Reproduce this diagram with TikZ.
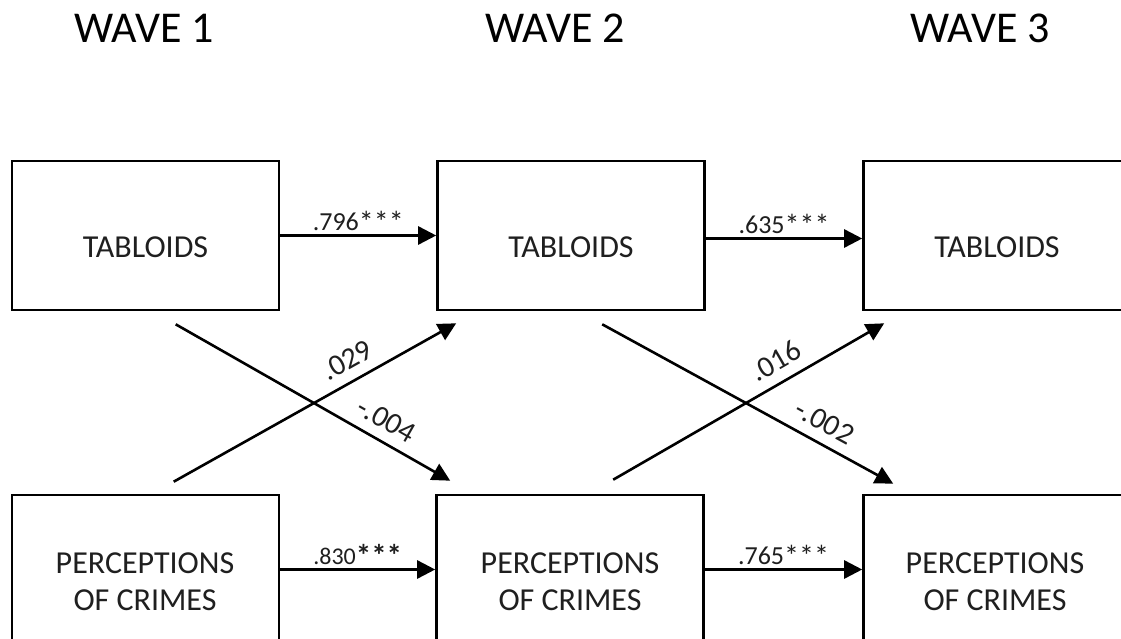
\documentclass[tikz,border=0pt]{standalone}
\usepackage{fontspec}
\setmainfont{Carlito}
\usetikzlibrary{arrows.meta,calc}

\tikzset{
  boxnode/.style={draw=black, line width=2.6pt, rectangle, minimum width=267pt,
                  minimum height=149pt, inner sep=0pt},
  boxtext/.style={align=center, text=black!88, font=\fontsize{32}{37}\selectfont, inner sep=0pt},
  wavetitle/.style={anchor=base, text=black, font=\fontsize{44}{44}\selectfont, inner sep=0pt},
  arr/.style={line width=2.6pt, -{Triangle[length=18pt,width=18pt]}},
  coef/.style={above=2pt, inner sep=0pt, text=black!88, font=\fontsize{26}{26}\selectfont},
  cross/.style={sloped, above=10pt, inner sep=0pt, text=black!88, font=\fontsize{30}{30}\selectfont}
}
% enlarged significance stars
\newcommand{\sigstars}[1][30]{{\fontsize{#1}{#1}\selectfont\raisebox{-2pt}{***}}}

\begin{document}
\begin{tikzpicture}[x=1pt, y=-1pt]
  \clip (0,0) rectangle (1121,639);
  \fill[white] (0,0) rectangle (1121,639);

  % wave headings
  \node[wavetitle] (w1) at (144,43) {WAVE 1};
  \node[wavetitle] (w2) at (555,43) {WAVE 2};
  \node[wavetitle] (w3) at (980,43) {WAVE 3};

  % tabloid boxes
  \node[boxnode] (t1) at (145.5,235.5) {};
  \node[boxnode] (t2) at (571,235.5) {};
  \node[boxnode] (t3) at (997,235.5) {};
  \node[boxtext] (t1l) at ([yshift=-11.5pt]t1.center) {TABLOIDS};
  \node[boxtext] (t2l) at ([yshift=-11.5pt]t2.center) {TABLOIDS};
  \node[boxtext] (t3l) at ([yshift=-11.5pt]t3.center) {TABLOIDS};

  % perception boxes
  \node[boxnode] (p1) at (145.5,569.5) {};
  \node[boxnode] (p2) at (570,569.5) {};
  \node[boxnode] (p3) at (997,569.5) {};
  \node[boxtext] (p1l) at (145,581.5) {PERCEPTIONS\\OF CRIMES};
  \node[boxtext] (p2l) at (570,581.5) {PERCEPTIONS\\OF CRIMES};
  \node[boxtext] (p3l) at (995,581.5) {PERCEPTIONS\\OF CRIMES};

  % stability paths
  \draw[arr] (t1.east) -- node[coef] (c1) {.796\sigstars} (t2.west);
  \draw[arr] ([yshift=-3pt]t2.east) -- node[coef] (c2) {.635\sigstars} ([yshift=-3pt]t3.west);
  \draw[arr] (p1.east) -- node[coef] (c3) {{\fontsize{24}{24}\selectfont .830}{\bfseries\sigstars[31]}} (p2.west);
  \draw[arr] (p2.east) -- node[coef] (c4) {.765\sigstars} (p3.west);

  % cross-lagged path ends
  \coordinate (a1) at ($(t1.south west)+(165,13)$);
  \coordinate (b1) at ($(p2.north west)+(15,-13)$);
  \coordinate (a2) at ($(p1.north west)+(163,-12)$);
  \coordinate (b2) at ($(t2.south west)+(20,12)$);
  \coordinate (a3) at ($(t2.south west)+(166,13)$);
  \coordinate (b3) at ($(p3.north west)+(31,-10)$);
  \coordinate (a4) at ($(p2.north west)+(178,-14)$);
  \coordinate (b4) at ($(t3.south west)+(22,12)$);

  % cross-lagged paths
  \draw[arr] (a1) -- node[cross, pos=0.73] (x1) {-.004} (b1);
  \draw[arr] (a2) -- node[cross, pos=0.65] (x2) {.029} (b2);
  \draw[arr] (a3) -- node[cross, pos=0.73] (x3) {-.002} (b3);
  \draw[arr] (a4) -- node[cross, pos=0.64] (x4) {.016} (b4);
\end{tikzpicture}
\end{document}
